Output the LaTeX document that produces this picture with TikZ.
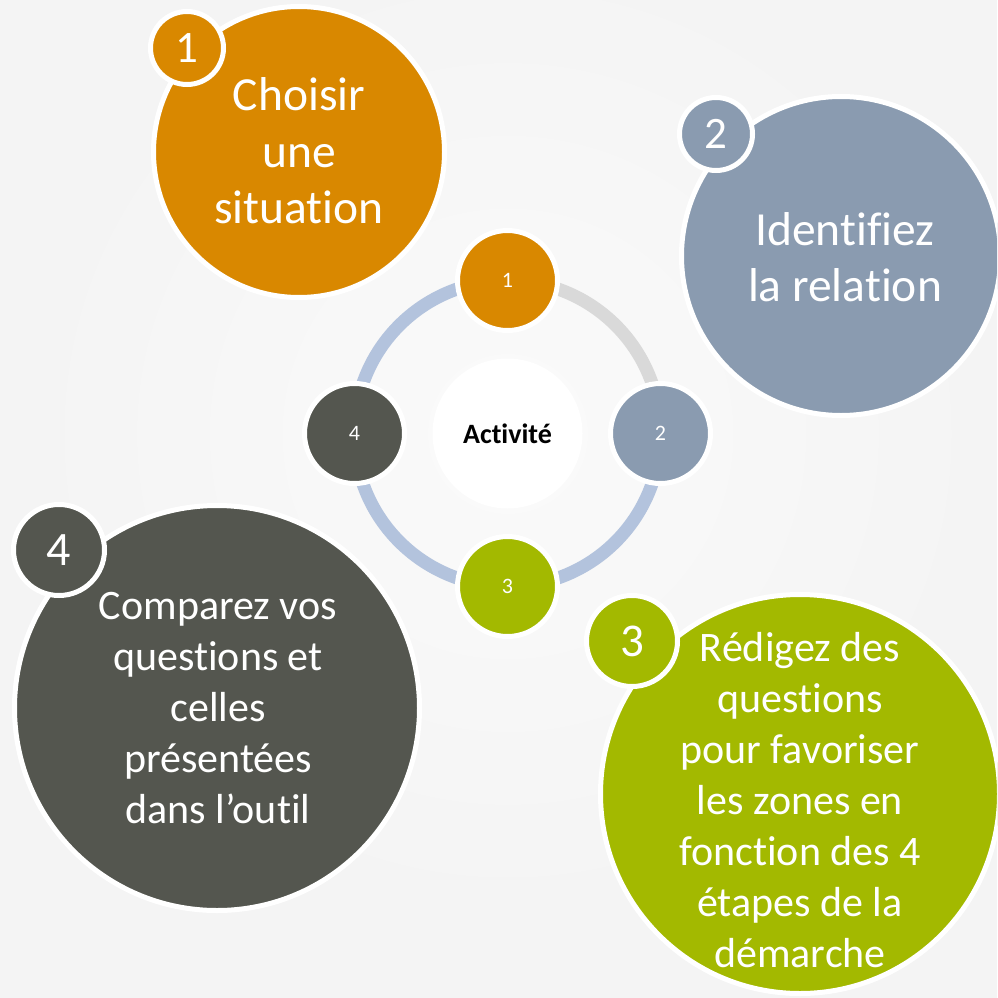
\documentclass[tikz,border=0pt]{standalone}
\usepackage{fontspec}
\setmainfont{Carlito}[Ligatures=NoCommon]
\usetikzlibrary{calc}
\definecolor{stepOrange}{HTML}{D98800}
\definecolor{stepSlate}{HTML}{8A9BB0}
\definecolor{stepGreen}{HTML}{A3B900}
\definecolor{stepDark}{HTML}{54564F}
\definecolor{ringBlue}{HTML}{B3C3DD}
\definecolor{ringGray}{HTML}{D9D9D9}
\definecolor{backGray}{HTML}{F4F4F4}
\tikzset{
  bigdisc/.style={circle, draw=white, line width=5pt, inner sep=0pt},
  badge/.style={circle, draw=white, line width=5pt, inner sep=0pt, text=white},
  dot/.style={circle, draw=white, line width=5pt, inner sep=0pt, minimum size=100pt,
    text=white, font=\fontsize{22}{26}\selectfont},
  bigtext/.style={text=white, align=center, inner sep=0pt},
  ring/.style={line width=13pt}
}
\begin{document}
\begin{tikzpicture}[x=1pt, y=-1pt]
\useasboundingbox (0,0) rectangle (997,998);
\clip (0,0) rectangle (997,998);
% Background
\fill[backGray] (0,0) rectangle (997,998);
\shade[inner color=white!60!backGray, outer color=backGray] (507.5,433.5) circle (480);

% Big step circles
\node[bigdisc, fill=stepOrange, minimum size=291pt] (c1) at (299,152) {};
\node[bigdisc, fill=stepSlate, minimum size=319pt] (c2) at (841,256) {};
\node[bigdisc, fill=stepGreen, minimum size=399pt] (c3) at (800,794) {};
\node[bigdisc, fill=stepDark, minimum size=405pt] (c4) at (217,708) {};

\node[bigtext, font=\fontsize{47.5}{56.5}\selectfont] (t1) at (299,151) {Choisir\\une\\situation};
\node[bigtext, font=\fontsize{47.5}{56}\selectfont] (t2) at (845,257) {Identifiez\\la relation};
\node[bigtext, font=\fontsize{42}{51}\selectfont] (t3) at (800,800)
  {Rédigez des\\questions\\pour favoriser\\les zones en\\fonction des 4\\étapes de la\\démarche};
\node[bigtext, font=\fontsize{42}{51}\selectfont] (t4) at (218,708)
  {Comparez vos\\questions et\\celles\\présentées\\dans l’outil};

% Number badges
\node[badge, fill=stepOrange, minimum size=73pt, font=\fontsize{45}{50}\selectfont] (b1) at (187,48) {1};
\node[badge, fill=stepSlate, minimum size=73pt, font=\fontsize{45}{50}\selectfont] (b2) at (716,134) {2};
\node[badge, fill=stepGreen, minimum size=91pt, font=\fontsize{47}{50}\selectfont] (b3) at (632,641) {3};
\node[badge, fill=stepDark, minimum size=91pt, font=\fontsize{48}{50}\selectfont] (b4) at (59,550) {4};

% Cycle in the middle (y axis points down, so -90 is the top)
\node[circle, fill=white, minimum size=150pt, inner sep=0pt,
  font=\fontsize{28}{32}\selectfont\bfseries] (hub) at (507.5,433.5) {Activité};
\draw[ring, ringGray] (hub.center) ++(-90:153) arc (-90:0:153);
\draw[ring, ringBlue] (hub.center) ++(0:153) arc (0:270:153);
\foreach \n/\a/\c in {1/-90/stepOrange, 2/0/stepSlate, 3/90/stepGreen, 4/180/stepDark} {
  \node[dot, fill=\c] (s\n) at ($(hub.center)+(\a:153)$) {\n};
}
\end{tikzpicture}
\end{document}
